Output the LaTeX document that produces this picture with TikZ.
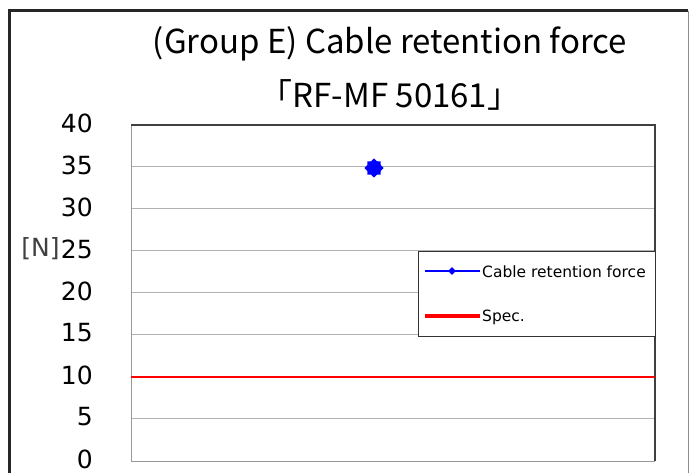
\documentclass[tikz,border=0pt]{standalone}
\usepackage{fontspec}
\setmainfont{DejaVu Sans}
\newfontfamily\titlefont{Noto Sans CJK JP}
\usetikzlibrary{shapes.geometric}
\tikzset{
  grid line/.style={draw=black!30, line width=1pt},
  tick label/.style={anchor=east, font=\fontsize{25}{25}\selectfont, inner sep=0pt},
  legend label/.style={anchor=west, font=\fontsize{15.5}{15.5}\selectfont, inner sep=0pt},
  title label/.style={font=\titlefont\fontsize{33}{33}\selectfont},
}
\begin{document}
\begin{tikzpicture}[x=1pt,y=-1pt]
\useasboundingbox (0,0) rectangle (689,473);
% outer frame
\draw[line width=3pt, black!85] (9,480) -- (9,11) -- (688,11);
\draw[line width=1pt, black!45] (688,11) -- (688,480);
% title
\node[title label] (title) at (390,44) {(Group E) Cable retention force};
\node[title label] (subtitle) at (390,95) {「RF-MF 50161」};
% grid and ticks
\foreach \v in {0,5,...,40} {
  \draw[grid line] (131,{461-8.4*\v}) -- (655,{461-8.4*\v});
  \node[tick label] (tick\v) at (93,{459-8.4*\v}) {\v};
}
\node[tick label, text=black!75] (unit) at ([xshift=-1pt]tick25.west) {[N]};
% plot frame
\draw[black!40, line width=1pt] (655,461) -- (131,461) -- (131,125);
\draw[black!75, line width=1.5pt] (131,125) -- (655,125) -- (655,461);
% spec line
\draw[red, line width=2pt] (131,377) -- (655,377);
% data point
\node[star, star points=8, star point ratio=1.3, fill=blue, inner sep=0pt, minimum size=19pt] (pt) at (374,168) {};
% legend
\node[draw=black!80, fill=white, line width=1pt, minimum width=237pt, minimum height=85pt, inner sep=0pt] (legend) at (536.5,294.5) {};
\coordinate (ka) at (425,271);
\coordinate (kb) at (480,271);
\coordinate (ra) at (425,316);
\coordinate (rb) at (480,316);
\draw[blue, line width=2.5pt] (ka) -- (kb);
\node[diamond, fill=blue, inner sep=0pt, minimum size=8pt] (km) at (452,271) {};
\draw[red, line width=3.5pt] (ra) -- (rb);
\node[legend label] (l1) at (482,272) {Cable retention force};
\node[legend label] (l2) at (482,317) {Spec.};
\end{tikzpicture}
\end{document}
